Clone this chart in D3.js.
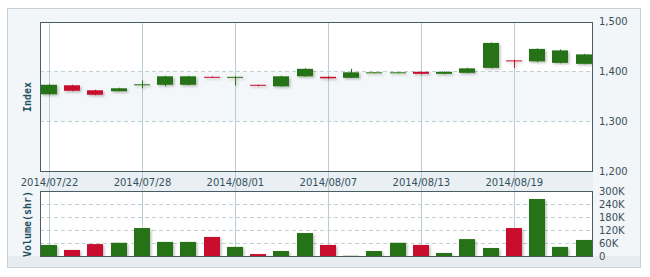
<!DOCTYPE html>
<html lang="en">
<head>
  <meta charset="UTF-8">
  <title>Index candlestick with volume</title>
  <script src="https://d3js.org/d3.v7.min.js"></script>
  <style>
    body { margin: 0; background: #fff; }
    svg text { font-family: "DejaVu Sans", Verdana, sans-serif; }
  </style>
</head>
<body>
  <div id="chart"></div>

  <script>
    // trading days shown
    const dates = ["2014/07/22","2014/07/23","2014/07/24","2014/07/25","2014/07/28","2014/07/29",
      "2014/07/30","2014/07/31","2014/08/01","2014/08/04","2014/08/05","2014/08/06","2014/08/07",
      "2014/08/08","2014/08/11","2014/08/12","2014/08/13","2014/08/14","2014/08/15","2014/08/18",
      "2014/08/19","2014/08/20","2014/08/21","2014/08/22"];
    const openV  = [1354,1372,1362,1360,1374,1373,1373,1389,1389,1373,1370,1390,1389,1387,1397,1397,1399,1395,1397,1407,1422,1420,1417,1415];
    const highV  = [1374,1373,1363,1367,1382,1391,1391,1390,1390,1373,1391,1406,1390,1405,1398,1398,1400,1400,1407,1458,1423,1446,1444,1435];
    const lowV   = [1353,1360,1352,1360,1366,1370,1372,1388,1372,1370,1369,1389,1385,1387,1396,1396,1394,1394,1396,1406,1407,1418,1416,1414];
    const closeV = [1373,1361,1353,1366,1374,1390,1390,1389,1389,1371,1390,1405,1386,1398,1398,1398,1395,1399,1406,1457,1422,1445,1442,1434];
    const volumeV = [51000,28000,55000,61000,129000,65000,65000,88000,42000,9000,23000,106000,
      51000,1000,23000,61000,51000,14000,78000,37000,129000,263000,42000,74000];
    const upDown = [1,0,0,1,1,1,1,0,1,0,1,1,0,1,1,1,0,1,1,1,0,1,1,1];  // 1 = up day
    const dateTicks = ["2014/07/22","2014/07/28","2014/08/01","2014/08/07","2014/08/13","2014/08/19"];
    const priceTicks = [1200,1300,1400,1500];
    const volTicks = [0,60000,120000,180000,240000,300000];

    const W = 650, H = 277;
    const plot = {left: 40, right: 593, top: 22, bottom: 171};
    const vol = {top: 191, bottom: 256};
    const green = "#277212", red = "#c8102e";

    const svg = d3.select("#chart").append("svg").attr("width", W).attr("height", H);

    const defs = svg.append("defs");
    const f = defs.append("filter").attr("id", "shadow").attr("x", "-20%").attr("y", "-20%")
      .attr("width", "160%").attr("height", "160%");
    f.append("feDropShadow").attr("dx", 1.5).attr("dy", 1.5).attr("stdDeviation", 1)
      .attr("flood-color", "#000").attr("flood-opacity", 0.25);
    defs.append("clipPath").attr("id", "clipP").append("rect")
      .attr("x", plot.left).attr("y", plot.top)
      .attr("width", plot.right - plot.left).attr("height", plot.bottom - plot.top);
    defs.append("clipPath").attr("id", "clipV").append("rect")
      .attr("x", plot.left).attr("y", vol.top)
      .attr("width", plot.right - plot.left).attr("height", vol.bottom - vol.top);

    const x = d3.scaleLinear().domain([0, dates.length - 1]).range([49, 583.5]);
    const y = d3.scaleLinear().domain([1200, 1500]).range([plot.bottom, 21.5]);
    const yv = d3.scaleLinear().domain([0, 300000]).range([vol.bottom, vol.top]);
    const bw = 16;

    // outer panel
    svg.append("rect").attr("x", 7.5).attr("y", 8.5).attr("width", 633).attr("height", 259)
      .attr("fill", "#f2f6f8").attr("stroke", "#c6d0d5");
    // date strip
    svg.append("rect").attr("x", plot.left).attr("y", plot.bottom).attr("width", plot.right - plot.left)
      .attr("height", vol.top - plot.bottom).attr("fill", "#e9eff2");
    svg.append("rect").attr("x", 8).attr("y", vol.bottom).attr("width", 632).attr("height", 10.5)
      .attr("fill", "#e6ecef");

    // price plot
    svg.append("rect").attr("x", plot.left).attr("y", plot.top)
      .attr("width", plot.right - plot.left).attr("height", plot.bottom - plot.top).attr("fill", "#fff");
    svg.append("rect").attr("x", plot.left).attr("y", y(1400))
      .attr("width", plot.right - plot.left).attr("height", y(1300) - y(1400)).attr("fill", "#f4f7f9");
    svg.append("g").selectAll("line").data(priceTicks.slice(1, 3)).join("line")
      .attr("x1", plot.left).attr("x2", plot.right)
      .attr("y1", d => Math.round(y(d)) + 0.5).attr("y2", d => Math.round(y(d)) + 0.5)
      .attr("stroke", "#bfd0d6").attr("stroke-dasharray", "4,3");

    // volume plot
    svg.append("rect").attr("x", plot.left).attr("y", vol.top)
      .attr("width", plot.right - plot.left).attr("height", vol.bottom - vol.top).attr("fill", "#fff");
    svg.append("g").selectAll("line").data(volTicks.slice(1, 5)).join("line")
      .attr("x1", plot.left).attr("x2", plot.right)
      .attr("y1", d => Math.round(yv(d)) + 0.5).attr("y2", d => Math.round(yv(d)) + 0.5)
      .attr("stroke", "#bfd0d6").attr("stroke-dasharray", "4,3");

    // vertical grid through both panels
    const tickIdx = dateTicks.map(d => dates.indexOf(d));
    svg.append("g").selectAll("line").data(tickIdx).join("line")
      .attr("x1", d => Math.round(x(d)) + 0.5).attr("x2", d => Math.round(x(d)) + 0.5)
      .attr("y1", plot.top).attr("y2", vol.bottom)
      .attr("stroke", "#b9ccd3");

    // candles
    const cg = svg.append("g").attr("clip-path", "url(#clipP)")
      .append("g").attr("filter", "url(#shadow)");
    const candles = cg.selectAll("g").data(dates.map((d, i) => i)).join("g");
    candles.append("line")
      .attr("x1", i => Math.round(x(i)) + 0.5).attr("x2", i => Math.round(x(i)) + 0.5)
      .attr("y1", i => y(highV[i])).attr("y2", i => y(lowV[i]))
      .attr("stroke", i => upDown[i] ? green : red);
    candles.append("rect")
      .attr("x", i => Math.round(x(i)) - bw / 2)
      .attr("width", bw)
      .attr("y", i => y(Math.max(openV[i], closeV[i])))
      .attr("height", i => Math.max(1, Math.abs(y(openV[i]) - y(closeV[i]))))
      .attr("fill", i => upDown[i] ? green : red);

    // volume bars
    svg.append("g").attr("clip-path", "url(#clipV)")
      .append("g").attr("filter", "url(#shadow)")
      .selectAll("rect").data(volumeV).join("rect")
      .attr("x", (d, i) => Math.round(x(i)) - bw / 2)
      .attr("width", bw)
      .attr("y", d => yv(d))
      .attr("height", d => vol.bottom - yv(d))
      .attr("fill", (d, i) => upDown[i] ? green : red);

    // frames
    svg.append("rect").attr("x", plot.left + 0.5).attr("y", plot.top + 0.5)
      .attr("width", plot.right - plot.left - 1).attr("height", plot.bottom - plot.top)
      .attr("fill", "none").attr("stroke", "#4a5c63");
    svg.append("rect").attr("x", plot.left + 0.5).attr("y", vol.top + 0.5)
      .attr("width", plot.right - plot.left - 1).attr("height", vol.bottom - vol.top)
      .attr("fill", "none").attr("stroke", "#4a5c63");

    // axes
    const fmtP = d3.format(",");
    const yAxis = svg.append("g").attr("transform", `translate(${plot.right},0)`)
      .call(d3.axisRight(y).tickValues(priceTicks).tickFormat(fmtP).tickSize(0).tickPadding(6));
    const vAxis = svg.append("g").attr("transform", `translate(${plot.right},0)`)
      .call(d3.axisRight(yv).tickValues(volTicks)
        .tickFormat(d => d === 0 ? "0" : (d / 1000) + "K").tickSize(0).tickPadding(6));
    const xAxis = svg.append("g").attr("transform", `translate(0,${plot.bottom + 8})`)
      .call(d3.axisBottom(x).tickValues(tickIdx).tickFormat(i => dates[i]).tickSize(0).tickPadding(0));
    [yAxis, vAxis, xAxis].forEach(a => {
      a.select(".domain").remove();
      a.selectAll("text").attr("fill", "#3b4f5a").style("font-size", "10px")
        .style("font-family", '"DejaVu Sans", Verdana, sans-serif');
    });
    xAxis.selectAll("text").attr("fill", "#34515f");

    // axis titles
    svg.append("text").attr("transform", `translate(31,97) rotate(-90)`)
      .attr("text-anchor", "middle").attr("fill", "#1f4f5f")
      .style("font-family", '"DejaVu Sans Mono", monospace').style("font-weight", "bold")
      .style("font-size", "10px").text("Index");
    svg.append("text").attr("transform", `translate(31,224) rotate(-90)`)
      .attr("text-anchor", "middle").attr("fill", "#1f4f5f")
      .style("font-family", '"DejaVu Sans Mono", monospace').style("font-weight", "bold")
      .style("font-size", "10px").text("Volume(shr)");
  </script>
</body>
</html>
